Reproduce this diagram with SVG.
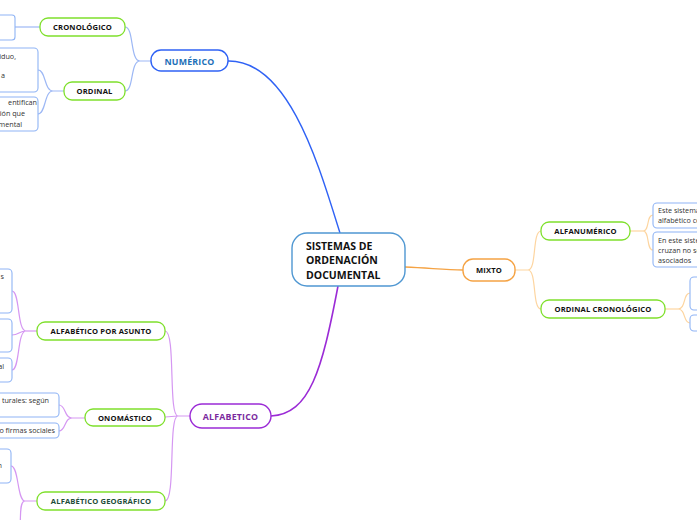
<svg xmlns="http://www.w3.org/2000/svg" width="697" height="520" viewBox="0 0 697 520">
<style>
.bg{fill:#ffffff}
.lv2{fill:#fff;stroke:#7fe02c;stroke-width:1.3}
.leaf{fill:#fff;stroke:#8fb4f5;stroke-width:1.1}
.t2{font-family:"Open Sans","Liberation Sans",sans-serif;font-weight:bold;font-size:7.6px;letter-spacing:0.15px;fill:#111;text-anchor:middle}
.tl{font-family:"Open Sans","Liberation Sans",sans-serif;font-size:7.2px;fill:#333}
.c{fill:none}
.cb{stroke:#2f62f5;stroke-width:1.4}
.cbl{stroke:#9db8f5;stroke-width:1.2}
.co{stroke:#f5a344;stroke-width:1.4}
.col{stroke:#fdd5a0;stroke-width:1.2}
.cp{stroke:#9b2bd6;stroke-width:1.6}
.cpl{stroke:#d597f2;stroke-width:1.2}
</style>
<rect class="bg" x="0" y="0" width="697" height="520"/>
<g id="connectors" class="c">
<path class="cb" d="M228,61 C290,60 320,170 340,233"/>
<path class="co" d="M405,267 C430,268 445,270 463,270"/>
<path class="cp" d="M338,286 C322,370 310,414 271,416"/>
<path class="cbl" d="M151,61 L140,61 C130,61 134,27 125,27 M140,61 C130,61 134,91 125,91"/>
<path class="cbl" d="M15,27 L40,27"/>
<path class="cbl" d="M64,91 L53,91 C44,91 46,70 38,70 M53,91 C44,91 46,114 38,114"/>
<path class="col" d="M515,270 L528,270 C537,270 532,231 541,231 M528,270 C537,270 532,309 541,309"/>
<path class="col" d="M630,231 L643,231" stroke-width="2.5"/>
<path class="col" d="M643,231 C650,231 646,215 653,215 M643,231 C650,231 646,250 653,250"/>
<path class="col" d="M665,309 L678,309" stroke-width="2.5"/>
<path class="col" d="M678,309 C686,309 683,293 690,293 M678,309 C686,309 683,323 690,323"/>
<path class="cpl" d="M190,416 L178,416 C168,416 176,331 165,331 M178,416 L165,417 M178,416 C168,416 176,501 165,501"/>
<path class="cpl" d="M37,331 L26,331" stroke-width="2.5"/>
<path class="cpl" d="M26,331 C17,331 20,291 12,291 M26,331 C19,331 19,335 12,335 M26,331 C17,331 20,370 12,370"/>
<path class="cpl" d="M85,418 L72,418 C64,418 66,405 59,405 M72,418 C64,418 66,431 59,431"/>
<path class="cpl" d="M37,501 L25,501 C17,501 19,466 11,466 M25,501 C18,501 22,525 19,530"/>
</g>
<g id="central">
<rect x="292" y="233" width="113" height="53" rx="15" fill="#fff" stroke="#4f97d2" stroke-width="1.4"/>
<text x="306" y="250" font-family="'Open Sans','Liberation Sans',sans-serif" font-weight="bold" font-size="10.5" fill="#111">SISTEMAS DE</text>
<text x="306" y="264" font-family="'Open Sans','Liberation Sans',sans-serif" font-weight="bold" font-size="10.5" fill="#111">ORDENACIÓN</text>
<text x="306" y="279" font-family="'Open Sans','Liberation Sans',sans-serif" font-weight="bold" font-size="10.5" fill="#111">DOCUMENTAL</text>
</g>
<g id="numerico">
<rect x="151" y="50" width="77" height="21" rx="10" fill="#fff" stroke="#2f62f5" stroke-width="1.4"/>
<text x="189.5" y="64.5" font-family="'Open Sans','Liberation Sans',sans-serif" font-weight="bold" font-size="8.8" letter-spacing="0.2" fill="#1d70b8" text-anchor="middle">NUMÉRICO</text>
</g>
<g id="cronologico">
<rect class="lv2" x="40" y="18" width="85" height="18" rx="8"/>
<text class="t2" x="82.5" y="30">CRONOLÓGICO</text>
</g>
<g id="cronologico-leaf">
<rect class="leaf" x="-10" y="15" width="25" height="25" rx="3"/>
</g>
<g id="ordinal">
<rect class="lv2" x="64" y="82" width="61" height="18" rx="8"/>
<text class="t2" x="94.5" y="94">ORDINAL</text>
</g>
<g id="ordinal-leaf1">
<rect class="leaf" x="-20" y="48" width="58" height="44" rx="4"/>
<text class="tl" x="16" y="59" text-anchor="end">iduo,</text>
<text class="tl" x="5" y="78" text-anchor="end">a</text>
</g>
<g id="ordinal-leaf2">
<rect class="leaf" x="-20" y="97" width="58" height="34" rx="4"/>
<text class="tl" x="37" y="105" text-anchor="end">entifican</text>
<text class="tl" x="25" y="116" text-anchor="end">ción que</text>
<text class="tl" x="22" y="127" text-anchor="end">mental</text>
</g>
<g id="mixto">
<rect x="463" y="259" width="52" height="22" rx="10" fill="#fff" stroke="#f5a344" stroke-width="1.4"/>
<text class="t2" x="489" y="273">MIXTO</text>
</g>
<g id="alfanumerico">
<rect class="lv2" x="541" y="222" width="89" height="18" rx="8"/>
<text class="t2" x="585.5" y="234">ALFANUMÉRICO</text>
</g>
<g id="alfanumerico-leaf1">
<rect class="leaf" x="653" y="203" width="60" height="25" rx="4"/>
<text class="tl" x="658" y="213">Este sistema</text>
<text class="tl" x="658" y="223">alfabético con</text>
</g>
<g id="alfanumerico-leaf2">
<rect class="leaf" x="653" y="232" width="60" height="35" rx="4"/>
<text class="tl" x="658" y="243">En este sistema</text>
<text class="tl" x="658" y="253">cruzan no se</text>
<text class="tl" x="658" y="263">asociados</text>
</g>
<g id="ordinal-cronologico">
<rect class="lv2" x="541" y="300" width="124" height="18" rx="8"/>
<text class="t2" x="603" y="312">ORDINAL CRONOLÓGICO</text>
</g>
<g id="ordinal-cronologico-leaf1">
<rect class="leaf" x="690" y="277" width="30" height="33" rx="4"/>
</g>
<g id="ordinal-cronologico-leaf2">
<rect class="leaf" x="690" y="315" width="30" height="16" rx="4"/>
</g>
<g id="alfabetico">
<rect x="190" y="404" width="81" height="24" rx="12" fill="#fff" stroke="#9b2bd6" stroke-width="1.4"/>
<text x="230.5" y="419.5" font-family="'Open Sans','Liberation Sans',sans-serif" font-weight="bold" font-size="8.8" letter-spacing="0.2" fill="#7b2a9e" text-anchor="middle">ALFABETICO</text>
</g>
<g id="por-asunto">
<rect class="lv2" x="37" y="322" width="128" height="18" rx="8"/>
<text class="t2" x="101" y="334">ALFABÉTICO POR ASUNTO</text>
</g>
<g id="por-asunto-leaf1">
<rect class="leaf" x="-20" y="269" width="32" height="44" rx="4"/>
<text class="tl" x="4" y="279" text-anchor="end">s</text>
</g>
<g id="por-asunto-leaf2">
<rect class="leaf" x="-20" y="319" width="32" height="33" rx="4"/>
</g>
<g id="por-asunto-leaf3">
<rect class="leaf" x="-20" y="358" width="32" height="24" rx="4"/>
<text class="tl" x="4" y="369" text-anchor="end">al</text>
</g>
<g id="onomastico">
<rect class="lv2" x="85" y="409" width="80" height="17" rx="8"/>
<text class="t2" x="125" y="420.5">ONOMÁSTICO</text>
</g>
<g id="onomastico-leaf1">
<rect class="leaf" x="-20" y="393" width="79" height="24" rx="4"/>
<text class="tl" x="49" y="403" text-anchor="end">turales: según</text>
</g>
<g id="onomastico-leaf2">
<rect class="leaf" x="-20" y="423" width="79" height="15" rx="4"/>
<text class="tl" x="55" y="433" text-anchor="end">o firmas sociales</text>
</g>
<g id="geografico">
<rect class="lv2" x="37" y="492" width="128" height="18" rx="8"/>
<text class="t2" x="101" y="504" style="fill:#1e4d3a">ALFABÉTICO GEOGRÁFICO</text>
</g>
<g id="geografico-leaf1">
<rect class="leaf" x="-20" y="449" width="31" height="34" rx="4"/>
<text class="tl" x="2" y="468" text-anchor="end">n</text>
</g>
</svg>
